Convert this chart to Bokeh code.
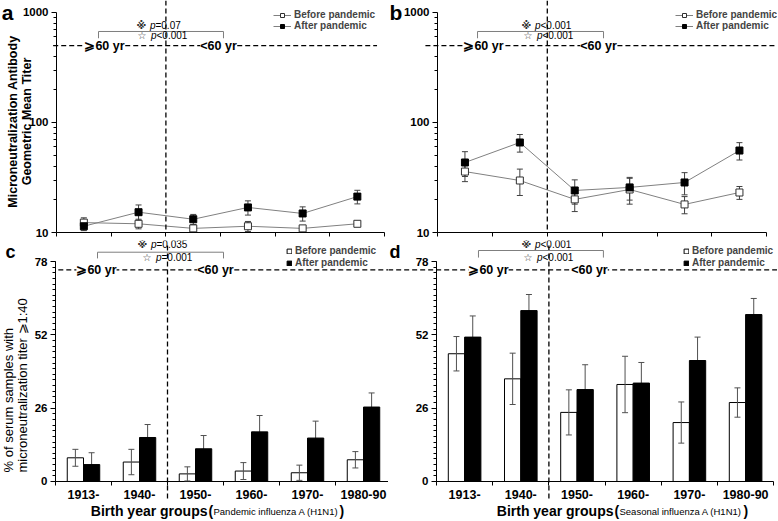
import numpy as np
from bokeh.plotting import figure
from bokeh.models import (ColumnDataSource, Range1d, FixedTicker, Label, Whisker,
                          TeeHead, Legend, LegendItem, NumeralTickFormatter)
from bokeh.layouts import column, row
from bokeh.embed import file_html
from bokeh.resources import INLINE

FONT = "Liberation Sans"
SYM_FONT = "DejaVu Sans"

groups = ["1913-", "1940-", "1950-", "1960-", "1970-", "1980-90"]

# a: GMT, pandemic influenza A (H1N1)
gmt_pdm_before = [12.3, 12.0, 10.9, 11.4, 10.9, 12.0]
gmt_pdm_before_err = [1.3, 1.2, 0.6, 1.2, 0.5, 0.5]
gmt_pdm_after = [11.4, 15.3, 13.2, 16.9, 14.9, 21.2]
gmt_pdm_after_err = [1.0, 2.5, 1.4, 2.5, 2.2, 3.0]
# b: GMT, seasonal influenza A (H1N1)
gmt_ssn_before = [35.8, 29.7, 20.0, 24.6, 18.0, 23.1]
gmt_ssn_before_err = [6.8, 8.0, 4.5, 6.5, 3.2, 3.1]
gmt_ssn_after = [43.3, 65.8, 24.1, 25.7, 28.5, 55.6]
gmt_ssn_after_err = [11.0, 12.0, 6.0, 6.0, 6.5, 10.0]
# c: % titer >=1:40, pandemic
pct_pdm_before = [8.4, 6.9, 2.7, 3.7, 3.1, 7.7]
pct_pdm_before_err = [3.0, 4.5, 2.5, 3.0, 2.7, 2.9]
pct_pdm_after = [6.0, 15.6, 11.6, 17.6, 15.4, 26.4]
pct_pdm_after_err = [4.2, 4.6, 4.7, 5.8, 6.0, 5.0]
# d: % titer >=1:40, seasonal
pct_ssn_before = [45.3, 36.4, 24.5, 34.4, 20.9, 28.0]
pct_ssn_before_err = [6.1, 9.1, 8.0, 10.0, 7.3, 5.2]
pct_ssn_after = [51.2, 60.6, 32.6, 34.9, 42.9, 59.2]
pct_ssn_after_err = [7.5, 5.7, 8.8, 7.3, 8.3, 5.7]

gmt_ticks = [10, 100, 1000]
gmt_minor = [20, 30, 40, 50, 60, 70, 80, 90, 200, 300, 400, 500, 600, 700, 800, 900]
pct_ticks = [0, 26, 52, 78]
pct_minor = list(range(0, 79, 2))

legend_labels = ["Before pandemic", "After pandemic"]

n = len(groups)
centers = np.arange(n) + 0.5
boundaries = list(range(n + 1))

DASH = "5 3"
TOP_H, BOT_H = 240, 280
GMT_YR = (8.459, 1285.4)
PCT_YR = (-13.83, 85.45)


def add_text(p, x, y, text, size, style="normal", align="left", baseline="middle",
             angle=0.0, x_offset=0, bg=None, color="black", font=FONT):
    p.add_layout(Label(x=x, y=y, text=text, text_font=font, text_font_size=f"{size}px",
                       text_font_style=style, text_align=align, text_baseline=baseline,
                       angle=angle, x_offset=x_offset, background_fill_color=bg,
                       text_color=color))


def base_fig(width, height, xr, yr, log, x_at):
    p = figure(width=width, height=height, x_range=Range1d(*xr), y_range=Range1d(*yr),
               y_axis_type="log" if log else "linear", output_backend="svg",
               toolbar_location=None, min_border_left=0, min_border_right=0,
               min_border_top=0, min_border_bottom=0, title=None)
    p.outline_line_color = None
    p.grid.visible = False
    p.background_fill_color = "white"
    p.border_fill_color = "white"
    for ax in (p.xaxis[0], p.yaxis[0]):
        ax.axis_line_color = "black"
        ax.major_tick_line_color = "black"
        ax.minor_tick_line_color = "black"
        ax.major_label_text_font = FONT
        ax.major_label_text_font_style = "bold"
        ax.major_label_text_color = "black"
    p.yaxis.fixed_location = 0
    p.xaxis.fixed_location = x_at
    p.xaxis.bounds = (0, n)
    p.yaxis.major_tick_out = 5
    p.yaxis.major_tick_in = 0
    p.yaxis.minor_tick_out = 3
    p.yaxis.minor_tick_in = 0
    p.yaxis.major_label_text_font_size = "11.5px"
    p.yaxis.major_label_standoff = 3
    p.xaxis.major_tick_out = 0
    p.xaxis.major_tick_in = 0
    p.xaxis.minor_tick_out = 4
    p.xaxis.minor_tick_in = 0
    return p


def p_text(p, x, y, sym, rest):
    add_text(p, x, y, sym, 10, style="bold", font=SYM_FONT, color="#333333")
    add_text(p, x, y, "p", 10, style="italic", x_offset=13.5)
    add_text(p, x, y, rest, 10, x_offset=19)


def decorate(p, hline, vline, bracket, t1, t2, ages):
    # vertical dashed divider (>=60 yr | <60 yr) and horizontal dashed line
    p.line([2, 2], list(vline), line_color="black", line_dash=DASH, line_width=1.3)
    p.line(list(hline[1:]), [hline[0], hline[0]], line_color="black", line_dash=DASH,
           line_width=1.3)
    x0, x1, yl, ye = bracket
    p.line([x0, x0, x1, x1], [ye, yl, yl, ye], line_color="#7f7f7f", line_width=1)
    p_text(p, t1[0], t1[1], "\u203b", t1[2])
    p_text(p, t2[0], t2[1], "\u2606", t2[2])
    add_text(p, ages[0], hline[0], "\u2a7e60 yr", 12.5, style="bold", align="center", bg="white")
    add_text(p, ages[1], hline[0], "<60 yr", 12.5, style="bold", align="center", bg="white")


def gmt_panel(width, xr, before, before_err, after, after_err, leg_loc):
    p = base_fig(width, TOP_H, xr, GMT_YR, True, 10)
    p.xaxis.ticker = FixedTicker(ticks=[], minor_ticks=boundaries)
    p.yaxis.ticker = FixedTicker(ticks=gmt_ticks, minor_ticks=gmt_minor)
    p.yaxis.formatter = NumeralTickFormatter(format="0")
    p.yaxis.bounds = (10, 1000)
    b = np.array(before); be = np.array(before_err)
    a = np.array(after); ae = np.array(after_err)
    sb = ColumnDataSource(dict(x=centers, y=b, lo=b - be, hi=b + be))
    sa = ColumnDataSource(dict(x=centers, y=a, lo=a - ae, hi=a + ae))
    for s in (sb, sa):
        p.add_layout(Whisker(base="x", lower="lo", upper="hi", source=s, dimension="height",
                             line_color="#404040", line_width=1, level="underlay",
                             upper_head=TeeHead(size=6, line_color="#404040", line_width=1),
                             lower_head=TeeHead(size=6, line_color="#404040", line_width=1)))
    lb = p.line("x", "y", source=sb, line_color="#808080", line_width=1)
    la = p.line("x", "y", source=sa, line_color="#808080", line_width=1)
    mb = p.scatter("x", "y", source=sb, marker="square", size=7, fill_color="white",
                   line_color="#303030", line_width=1)
    ma = p.scatter("x", "y", source=sa, marker="square", size=7, fill_color="black",
                   line_color="black", line_width=1)
    leg = Legend(items=[LegendItem(label=legend_labels[0], renderers=[lb, mb]),
                        LegendItem(label=legend_labels[1], renderers=[la, ma])],
                 location=leg_loc, glyph_width=18, glyph_height=10, label_height=10,
                 label_standoff=3, spacing=0, padding=0, margin=0,
                 label_text_font=FONT, label_text_font_size="10px",
                 label_text_font_style="bold", border_line_color=None,
                 background_fill_alpha=0)
    p.add_layout(leg)
    return p


def pct_panel(width, xr, before, before_err, after, after_err, leg_loc):
    p = base_fig(width, BOT_H, xr, PCT_YR, False, 0)
    p.xaxis.ticker = FixedTicker(ticks=list(centers), minor_ticks=boundaries)
    p.xaxis.major_label_overrides = {float(c): g for c, g in zip(centers, groups)}
    p.xaxis.major_label_text_font_size = "12.5px"
    p.xaxis.major_label_standoff = 5
    p.yaxis.ticker = FixedTicker(ticks=pct_ticks, minor_ticks=pct_minor)
    p.yaxis.bounds = (0, 78)
    b = np.array(before); be = np.array(before_err)
    a = np.array(after); ae = np.array(after_err)
    off, w = 0.145, 0.29
    sb = ColumnDataSource(dict(x=centers - off, y=b, lo=b - be, hi=b + be))
    sa = ColumnDataSource(dict(x=centers + off, y=a, lo=a - ae, hi=a + ae))
    rb = p.vbar(x="x", top="y", bottom=0, width=w, source=sb, fill_color="white",
                line_color="black", line_width=1)
    ra = p.vbar(x="x", top="y", bottom=0, width=w, source=sa, fill_color="black",
                line_color="black", line_width=1)
    for s, lvl in ((sb, "annotation"), (sa, "underlay")):
        p.add_layout(Whisker(base="x", lower="lo", upper="hi", source=s, dimension="height",
                             line_color="#505050", line_width=1, level=lvl,
                             upper_head=TeeHead(size=6, line_color="#505050", line_width=1),
                             lower_head=TeeHead(size=6, line_color="#505050", line_width=1)))
    leg = Legend(items=[LegendItem(label=legend_labels[0], renderers=[rb]),
                        LegendItem(label=legend_labels[1], renderers=[ra])],
                 location=leg_loc, glyph_width=6, glyph_height=6, label_height=10,
                 label_standoff=3, spacing=1, padding=0, margin=0,
                 label_text_font=FONT, label_text_font_size="10px",
                 label_text_font_style="bold", border_line_color=None,
                 background_fill_alpha=0)
    p.add_layout(leg)
    return p


def x_title(p, x, y, source_name, close_off):
    add_text(p, x, y, "Birth year groups", 14, style="bold", align="right",
             baseline="alphabetic")
    add_text(p, x, y, "(", 14, style="bold", baseline="alphabetic", x_offset=1)
    add_text(p, x, y, source_name, 9.5, baseline="alphabetic", x_offset=6)
    add_text(p, x, y, ")", 14, style="bold", baseline="alphabetic", x_offset=close_off)


# ---- panel a ----
xa = (-1.0238, 6.0695)
pa = gmt_panel(388, xa, gmt_pdm_before, gmt_pdm_before_err, gmt_pdm_after,
               gmt_pdm_after_err, (273, 209))
decorate(pa, (500, -0.06, 5.86), (GMT_YR[1], 10), (0.768, 3.053, 672, 580),
         (1.462, 762, "=0.07"), (1.481, 618, "<0.001"), (0.877, 2.962))
add_text(pa, -1.0, 1010, "a", 21, style="bold")
add_text(pa, -0.804, 102, "Microneutralization Antibody", 12.5, style="bold",
         align="center", angle=np.pi / 2)
add_text(pa, -0.548, 102, "Geometric Mean Titer", 12.5, style="bold",
         align="center", angle=np.pi / 2)

# ---- panel b ----
xb = (-0.8925, 6.1931)
pb = gmt_panel(389, xb, gmt_ssn_before, gmt_ssn_before_err, gmt_ssn_after,
               gmt_ssn_after_err, (287, 209))
decorate(pb, (500, -0.22, 6.19), (GMT_YR[1], 10), (0.729, 3.024, 672, 580),
         (1.530, 762, "<0.001"), (1.566, 618, "<0.001"), (0.838, 2.933))
add_text(pb, -0.874, 1010, "b", 21, style="bold")

# ---- panel c ----
xc = (-0.98214, 5.9464)
pc = pct_panel(388, xc, pct_pdm_before, pct_pdm_before_err, pct_pdm_after,
               pct_pdm_after_err, (286, 252))
decorate(pc, (75, 0.05, 5.95), (83.7, -6.0), (0.75, 3.0, 81.3, 79.1),
         (1.464, 84.0, "=0.035"), (1.554, 79.4, "=0.001"), (0.732, 2.857))
add_text(pc, -0.893, 81.4, "c", 18, style="bold")
add_text(pc, -0.839, 3.2, "% of serum samples with", 13, angle=np.pi / 2)
add_text(pc, -0.589, 3.2, "microneutralization titer \u2a7e1:40", 13, angle=np.pi / 2)
x_title(pc, 2.714, -10.6, "Pandemic influenza A (H1N1)", 132)

# ---- panel d ----
xd = (-0.85409, 6.0676)
pd_ = pct_panel(389, xd, pct_ssn_before, pct_ssn_before_err, pct_ssn_after,
                pct_ssn_after_err, (295, 252))
decorate(pd_, (75, -0.86, 6.07), (83.7, -6.0), (0.747, 2.97, 81.9, 79.4),
         (1.512, 84.0, "<0.001"), (1.548, 79.4, "<0.001"), (0.925, 2.722))
add_text(pd_, -0.836, 81.4, "d", 18, style="bold")
x_title(pd_, 3.149, -10.6, "Seasonal influenza A (H1N1)", 130)

layout = column(row(pa, pb), row(pc, pd_))
open("out.html", "w").write(file_html(layout, INLINE, title="Microneutralization antibody"))
